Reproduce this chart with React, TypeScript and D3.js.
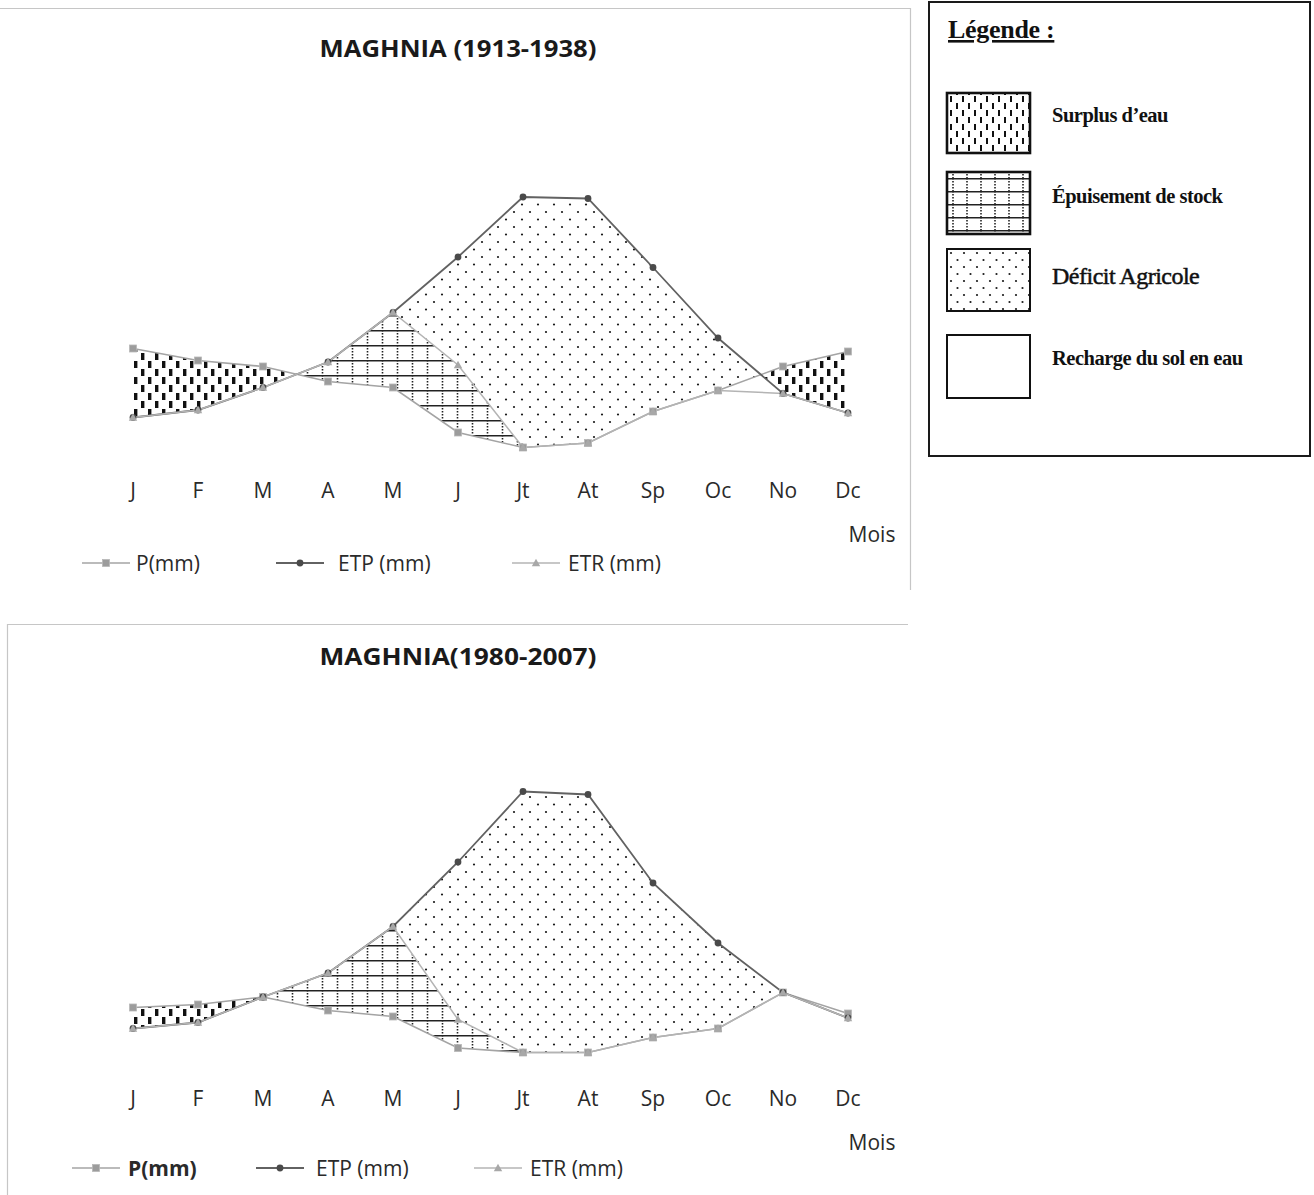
import React from 'react';
import * as d3 from 'd3';

const MONTHS = ['J', 'F', 'M', 'A', 'M', 'J', 'Jt', 'At', 'Sp', 'Oc', 'No', 'Dc'];

const P_1913 = [69, 61, 57, 47, 43, 13, 3, 6, 27, 41, 57, 67];
const ETP_1913 = [23, 28, 43, 60, 93, 130, 170, 169, 123, 76, 39, 26];
const ETR_1913 = [23, 28, 43, 60, 93, 58, 3, 6, 27, 41, 39, 26];

const P_1980 = [35, 37, 42, 33, 29, 8, 5, 5, 15, 21, 45, 31];
const ETP_1980 = [21, 25, 42, 58, 89, 132, 179, 177, 118, 78, 45, 28];
const ETR_1980 = [21, 25, 42, 58, 89, 27, 5, 5, 15, 21, 45, 28];

const SERIES_LABELS = ['P(mm)', 'ETP (mm)', 'ETR (mm)'];
const LEGEND_ITEMS = ['Surplus d\u2019eau', '\u00C9puisement de stock', 'D\u00E9ficit Agricole', 'Recharge du sol en eau'];

const FONT = "'Open Sans', 'DejaVu Sans', sans-serif";
const SERIF = "'Liberation Serif', 'DejaVu Serif', serif";

type Pt = { t: number; p: number; e: number; r: number };

function densify(P: number[], E: number[], R: number[]): Pt[] {
  const pts: Pt[] = [];
  for (let i = 0; i < P.length; i++) {
    pts.push({ t: i, p: P[i], e: E[i], r: R[i] });
    if (i < P.length - 1) {
      const ts: number[] = [];
      const pairs: [number[], number[]][] = [[P, E], [P, R], [R, E]];
      for (const [a, b] of pairs) {
        const d0 = a[i] - b[i];
        const d1 = a[i + 1] - b[i + 1];
        if (d0 * d1 < 0) ts.push(d0 / (d0 - d1));
      }
      ts.sort((a, b) => a - b);
      for (const f of ts) {
        pts.push({
          t: i + f,
          p: P[i] + (P[i + 1] - P[i]) * f,
          e: E[i] + (E[i + 1] - E[i]) * f,
          r: R[i] + (R[i + 1] - R[i]) * f,
        });
      }
    }
  }
  return pts;
}

function Marker({ kind, cx, cy }: { kind: number; cx: number; cy: number }) {
  if (kind === 0)
    return <rect x={cx - 3.5} y={cy - 3.5} width={7} height={7} fill="#9c9c9c" stroke="#b8b8b8" strokeWidth={0.8} />;
  if (kind === 1) return <circle cx={cx} cy={cy} r={3.4} fill="#4a4a4a" />;
  const s = 4.2;
  return (
    <path
      d={`M${cx},${cy - s}L${cx + s},${cy + s * 0.75}L${cx - s},${cy + s * 0.75}Z`}
      fill="#a8a8a8"
    />
  );
}

const LINE_COLORS = ['#a4a4a4', '#626262', '#b4b4b4'];
const LINE_WIDTHS = [1.6, 1.8, 1.5];

function Panel({
  P, E, R, baseY, title, surplusEnd, idx, legendY, legendX, legendTextX, legendBold,
}: {
  P: number[]; E: number[]; R: number[]; baseY: number; title: string; surplusEnd: number; idx: number;
  legendY: number; legendX: number[]; legendTextX: number[]; legendBold: boolean;
}) {
  const x = d3.scaleLinear().domain([0, 11]).range([133, 848]);
  const y = d3.scaleLinear().domain([0, 200]).range([baseY, baseY - 300]);
  const pts = densify(P, E, R);

  const surplus = d3.area<Pt>().x(d => x(d.t)).y0(d => y(d.e)).y1(d => y(Math.max(d.p, d.e)))(pts) || '';
  const epuis = d3.area<Pt>().x(d => x(d.t)).y0(d => y(d.p)).y1(d => y(Math.max(d.r, d.p)))(pts) || '';
  const deficit = d3.area<Pt>().x(d => x(d.t)).y0(d => y(Math.min(d.e, Math.max(d.r, d.p)))).y1(d => y(d.e))(pts) || '';

  const series = [P, E, R];
  const line = d3.line<number>().x((_, i) => x(i)).y(v => y(v));
  const clipId = `surplusClip${idx}`;
  const titleY = baseY - 395;
  const labelY = baseY + 46;

  return (
    <g>
      <defs>
        <clipPath id={clipId}>
          <rect x={0} y={baseY - 400} width={x(surplusEnd)} height={500} />
        </clipPath>
      </defs>
      <text x={458} y={titleY} textAnchor="middle" fontFamily={FONT} fontWeight="bold" fontSize={23} fill="#1a1a1a" textLength={277} lengthAdjust="spacingAndGlyphs">
        {title}
      </text>
      <path d={surplus} fill="url(#patSurplus)" clipPath={`url(#${clipId})`} />
      <path d={epuis} fill="url(#patEpuis)" />
      <path d={deficit} fill="url(#patDeficit)" />
      {series.map((s, k) => (
        <path key={k} d={line(s) || ''} fill="none" stroke={LINE_COLORS[k]} strokeWidth={LINE_WIDTHS[k]} />
      ))}
      {series.map((s, k) => s.map((v, i) => <Marker key={`${k}-${i}`} kind={k} cx={x(i)} cy={y(v)} />))}
      {MONTHS.map((m, i) => (
        <text key={i} x={x(i)} y={labelY} textAnchor="middle" fontFamily={FONT} fontSize={21} fill="#2a2a2a">
          {m}
        </text>
      ))}
      <text x={872} y={labelY + 44} textAnchor="middle" fontFamily={FONT} fontSize={21} fill="#2a2a2a">Mois</text>
      {SERIES_LABELS.map((lab, k) => {
        const x0 = legendX[k];
        return (
          <g key={k}>
            <line x1={x0} x2={x0 + 48} y1={legendY} y2={legendY} stroke={LINE_COLORS[k]} strokeWidth={LINE_WIDTHS[k]} />
            <Marker kind={k} cx={x0 + 24} cy={legendY} />
            <text x={legendTextX[k]} y={legendY + 8} fontFamily={FONT} fontSize={21} fill="#2a2a2a" fontWeight={legendBold && k === 0 ? 'bold' : 'normal'}>
              {lab}
            </text>
          </g>
        );
      })}
    </g>
  );
}

export default function App() {
  const sw = [
    { y: 93, h: 60, fill: 'url(#patSurplusL)', sw: 2.6 },
    { y: 172, h: 62, fill: 'url(#patEpuisL)', sw: 2.6 },
    { y: 249, h: 62, fill: 'url(#patDeficitL)', sw: 2 },
    { y: 335, h: 63, fill: '#fff', sw: 2 },
  ];
  const labelY = [122, 203, 284, 365];
  const labelSize = [20.5, 20.5, 24, 20.5];
  const labelWeight = ['bold', 'bold', 'normal', 'bold'];
  return (
    <svg width={1314} height={1195} style={{ position: 'absolute', left: 0, top: 0, background: '#fff' }}>
      <defs>
        <pattern id="patSurplus" patternUnits="userSpaceOnUse" width={14} height={16}>
          <rect x={1} y={1} width={3.4} height={7} fill="#111" />
          <rect x={8} y={9} width={3.4} height={7} fill="#111" />
        </pattern>
        <pattern id="patSurplusL" patternUnits="userSpaceOnUse" width={12} height={14} x={948} y={95}>
          <rect x={2} y={1} width={2} height={6} fill="#111" />
          <rect x={8} y={8} width={2} height={6} fill="#111" />
        </pattern>
        <pattern id="patEpuis" patternUnits="userSpaceOnUse" width={15} height={15}>
          <line x1={0} x2={15} y1={0.75} y2={0.75} stroke="#222" strokeWidth={1.5} />
          <line x1={7.5} x2={7.5} y1={0} y2={15} stroke="#222" strokeWidth={1.6} strokeDasharray="1.5 1.5" />
        </pattern>
        <pattern id="patEpuisL" patternUnits="userSpaceOnUse" width={14} height={13} x={946} y={178}>
          <line x1={0} x2={14} y1={0.75} y2={0.75} stroke="#222" strokeWidth={1.5} />
          <line x1={7} x2={7} y1={0} y2={13} stroke="#222" strokeWidth={1.6} strokeDasharray="1.5 1.5" />
        </pattern>
        <pattern id="patDeficit" patternUnits="userSpaceOnUse" width={16} height={15}>
          <circle cx={2} cy={2} r={1.1} fill="#1a1a1a" />
          <circle cx={10} cy={9.5} r={1.1} fill="#1a1a1a" />
        </pattern>
        <pattern id="patDeficitL" patternUnits="userSpaceOnUse" width={13} height={14} x={948} y={250}>
          <circle cx={3} cy={3} r={1.1} fill="#1a1a1a" />
          <circle cx={9.5} cy={10} r={1.1} fill="#1a1a1a" />
        </pattern>
      </defs>
      <rect x={0} y={0} width={1314} height={1195} fill="#fff" />
      <line x1={0} x2={910} y1={8.5} y2={8.5} stroke="#c6c6c6" strokeWidth={1.2} />
      <line x1={910.5} x2={910.5} y1={8} y2={590} stroke="#c6c6c6" strokeWidth={1.2} />
      <line x1={7} x2={908} y1={624.5} y2={624.5} stroke="#c6c6c6" strokeWidth={1.2} />
      <line x1={7.5} x2={7.5} y1={624} y2={1195} stroke="#c6c6c6" strokeWidth={1.2} />

      <Panel P={P_1913} E={ETP_1913} R={ETR_1913} baseY={452} title="MAGHNIA (1913-1938)" surplusEnd={11} idx={0}
        legendY={563} legendX={[82, 276, 512]} legendTextX={[136, 338, 568]} legendBold={false} />
      <Panel P={P_1980} E={ETP_1980} R={ETR_1980} baseY={1060} title="MAGHNIA(1980-2007)" surplusEnd={3} idx={1}
        legendY={1168} legendX={[72, 256, 474]} legendTextX={[128, 316, 530]} legendBold={true} />

      <rect x={929} y={2} width={381} height={454} fill="#fff" stroke="#1a1a1a" strokeWidth={2} />
      <text x={948} y={38} fontFamily={SERIF} fontWeight="bold" fontSize={26} fill="#111" textDecoration="underline" letterSpacing={-0.3}>
        Légende :
      </text>
      {sw.map((s, i) => (
        <g key={i}>
          <rect x={947} y={s.y} width={83} height={s.h} fill={s.fill} stroke="#111" strokeWidth={s.sw} />
          <text x={1052} y={labelY[i]} fontFamily={SERIF} fontWeight={labelWeight[i]} fontSize={labelSize[i]} fill="#111" letterSpacing={-0.5}
            stroke={i === 2 ? '#111' : 'none'} strokeWidth={i === 2 ? 0.5 : 0}>
            {LEGEND_ITEMS[i]}
          </text>
        </g>
      ))}
    </svg>
  );
}
